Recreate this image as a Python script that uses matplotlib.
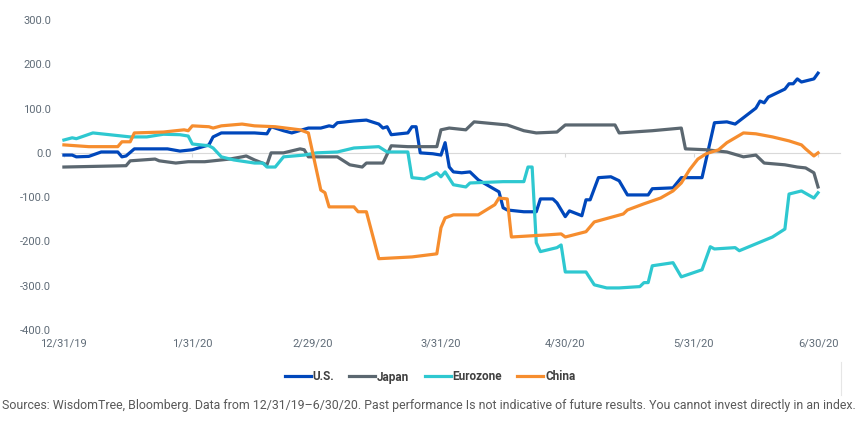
import matplotlib
matplotlib.use("Agg")
import matplotlib.pyplot as plt
import pandas as pd
from matplotlib.lines import Line2D

plt.rcParams['font.family'] = ['Roboto', 'DejaVu Sans']

# excess return series (dates m/d/yy, values)
us_dates = ["12/31/19", "1/2/20", "1/3/20", "1/6/20", "1/9/20", "1/13/20", "1/14/20", "1/15/20", "1/17/20", "1/25/20",
            "1/28/20", "1/31/20", "2/4/20", "2/5/20", "2/7/20", "2/15/20", "2/18/20", "2/19/20", "2/22/20", "2/24/20",
            "2/28/20", "3/2/20", "3/4/20", "3/5/20", "3/6/20", "3/10/20", "3/13/20", "3/16/20", "3/17/20", "3/18/20",
            "3/19/20", "3/23/20", "3/24/20", "3/25/20", "3/26/20", "3/29/20", "3/31/20", "4/1/20", "4/2/20", "4/3/20",
            "4/5/20", "4/7/20", "4/9/20", "4/14/20", "4/15/20", "4/16/20", "4/20/20", "4/23/20", "4/24/20", "4/27/20",
            "4/28/20", "4/30/20", "5/1/20", "5/4/20", "5/5/20", "5/6/20", "5/8/20", "5/11/20", "5/13/20", "5/15/20",
            "5/20/20", "5/21/20", "5/26/20", "5/28/20", "6/2/20", "6/5/20", "6/8/20", "6/10/20", "6/15/20", "6/16/20",
            "6/17/20", "6/18/20", "6/22/20", "6/23/20", "6/24/20", "6/25/20", "6/26/20", "6/29/20", "6/30/20"]
us_vals = [-5, -5, -9, -8, 2, 2, -9, -7, 9, 9,
           4, 7, 18, 36, 45, 45, 43, 59, 50, 45,
           56, 56, 61, 59, 68, 72, 74, 65, 56, 59,
           41, 45, 59, 59, 0, -2, -5, 23, -32, -43,
           -45, -43, -61, -88, -124, -129, -133, -133, -104, -104,
           -113, -144, -131, -142, -106, -106, -56, -54, -63, -95,
           -95, -81, -79, -56, -56, 68, 70, 65, 101, 117,
           113, 126, 144, 156, 156, 167, 160, 167, 180]

japan_dates = ["12/31/19", "1/15/20", "1/16/20", "1/22/20", "1/23/20", "1/27/20", "1/30/20", "2/3/20", "2/9/20", "2/12/20",
               "2/13/20", "2/15/20", "2/18/20", "2/19/20", "2/22/20", "2/26/20", "2/27/20", "2/28/20", "3/6/20", "3/9/20",
               "3/12/20", "3/13/20", "3/17/20", "3/19/20", "3/23/20", "3/30/20", "3/31/20", "4/2/20", "4/6/20", "4/8/20",
               "4/16/20", "4/20/20", "4/23/20", "4/28/20", "4/30/20", "5/12/20", "5/13/20", "5/21/20", "5/28/20", "5/29/20",
               "6/3/20", "6/8/20", "6/12/20", "6/15/20", "6/17/20", "6/22/20", "6/25/20", "6/27/20", "6/29/20", "6/30/20"]
japan_vals = [-32, -29, -18, -14, -18, -23, -20, -20, -14, -9,
              -7, -16, -27, 0, 0, 9, 7, -9, -9, -27,
              -32, -23, -23, 16, 14, 14, 52, 56, 52, 70,
              63, 50, 45, 47, 63, 63, 45, 50, 56, 9,
              7, 2, -9, -5, -23, -27, -32, -34, -45, -77]

euro_dates = ["12/31/19", "1/2/20", "1/3/20", "1/7/20", "1/14/20", "1/16/20", "1/20/20", "1/24/20", "1/28/20", "1/30/20",
              "1/31/20", "2/4/20", "2/5/20", "2/7/20", "2/10/20", "2/15/20", "2/17/20", "2/18/20", "2/20/20", "2/22/20",
              "2/27/20", "3/1/20", "3/6/20", "3/10/20", "3/16/20", "3/18/20", "3/23/20", "3/24/20", "3/27/20", "3/30/20",
              "3/31/20", "4/1/20", "4/3/20", "4/6/20", "4/7/20", "4/15/20", "4/20/20", "4/21/20", "4/22/20", "4/23/20",
              "4/24/20", "4/28/20", "4/29/20", "4/30/20", "5/5/20", "5/7/20", "5/10/20", "5/13/20", "5/18/20", "5/19/20",
              "5/20/20", "5/21/20", "5/26/20", "5/28/20", "6/2/20", "6/4/20", "6/5/20", "6/10/20", "6/11/20", "6/19/20",
              "6/22/20", "6/23/20", "6/26/20", "6/29/20", "6/30/20"]
euro_vals = [29, 34, 32, 45, 38, 36, 36, 42, 41, 38,
             20, 16, 11, -9, -16, -23, -23, -32, -32, -9,
             -5, 0, 2, 11, 14, 2, 2, -56, -59, -45,
             -54, -43, -72, -77, -68, -65, -65, -32, -32, -203,
             -223, -214, -208, -269, -269, -298, -305, -305, -302, -293,
             -293, -255, -248, -280, -264, -212, -217, -214, -221, -190,
             -172, -93, -86, -102, -90]

china_dates = ["12/31/19", "1/6/20", "1/13/20", "1/14/20", "1/16/20", "1/17/20", "1/24/20", "1/29/20", "1/30/20", "1/31/20",
               "2/4/20", "2/5/20", "2/7/20", "2/12/20", "2/15/20", "2/20/20", "2/26/20", "2/28/20", "3/2/20", "3/3/20",
               "3/4/20", "3/10/20", "3/11/20", "3/13/20", "3/16/20", "3/24/20", "3/30/20", "3/31/20", "4/1/20", "4/3/20",
               "4/9/20", "4/13/20", "4/14/20", "4/16/20", "4/17/20", "4/26/20", "4/29/20", "4/30/20", "5/5/20", "5/7/20",
               "5/14/20", "5/15/20", "5/19/20", "5/23/20", "5/26/20", "5/28/20", "5/30/20", "6/1/20", "6/3/20", "6/6/20",
               "6/8/20", "6/10/20", "6/12/20", "6/15/20", "6/19/20", "6/23/20", "6/26/20", "6/27/20", "6/29/20", "6/30/20"]
china_vals = [18, 14, 14, 25, 25, 45, 47, 52, 50, 61,
              59, 56, 61, 65, 61, 59, 52, 45, -84, -90,
              -122, -122, -133, -133, -239, -235, -228, -169, -147, -140,
              -140, -117, -102, -104, -190, -185, -183, -190, -178, -156,
              -138, -129, -115, -102, -86, -68, -38, -14, -2, 7,
              23, 34, 45, 43, 36, 27, 18, 9, -7, 0]

series_names = ["U.S.", "Japan", "Eurozone", "China"]
series_colors = ["#0047BB", "#5B6770", "#2EC8D0", "#F68D2E"]

x_ticks = ["12/31/19", "1/31/20", "2/29/20", "3/31/20", "4/30/20", "5/31/20", "6/30/20"]
y_ticks = [300, 200, 100, 0, -100, -200, -300, -400]

source = ("Sources: WisdomTree, Bloomberg. Data from 12/31/19\u20136/30/20. Past performance Is not "
          "indicative of future results. You cannot invest directly in an index.")


def to_dates(lst):
    return pd.to_datetime(lst, format="%m/%d/%y")


fig = plt.figure(figsize=(8.59, 4.32), dpi=100)
ax = fig.add_axes([61 / 859, 1 - 330 / 432, (840 - 61) / 859, 310 / 432])

all_series = [(us_dates, us_vals), (japan_dates, japan_vals), (euro_dates, euro_vals), (china_dates, china_vals)]
for (d, v), name, c in zip(all_series, series_names, series_colors):
    ax.plot(to_dates(d), v, color=c, lw=2.3, label=name, solid_joinstyle='round', zorder=3)

start = pd.Timestamp("2019-12-31")
end = pd.Timestamp("2020-06-30")
ax.set_xlim(start - pd.Timedelta(days=0.7), end + pd.Timedelta(days=5.3))
ax.set_ylim(-400, 300)

# axis line sits on zero with small ticks, labels at the bottom
for s in ["top", "right", "left"]:
    ax.spines[s].set_visible(False)
ax.spines["bottom"].set_position(("data", 0))
ax.spines["bottom"].set_color("#d9d9d9")
ax.spines["bottom"].set_zorder(1)
tick_pos = to_dates(x_ticks)
ax.set_xticks(tick_pos)
ax.tick_params(axis="x", length=3, color="#d9d9d9", labelbottom=False)

sec = ax.secondary_xaxis("bottom")
sec.set_xticks(tick_pos, labels=x_ticks)
sec.spines["bottom"].set_visible(False)
sec.tick_params(length=0, pad=6, labelsize=8, labelcolor="#5F6B77")

ax.set_yticks(y_ticks, labels=[f"{v:.1f}" for v in y_ticks])
ax.tick_params(axis="y", length=0, pad=7, labelsize=8, labelcolor="#5F6B77")

handles = [Line2D([], [], color=c, lw=2.3) for c in series_colors]
fig.legend(handles, series_names, loc="center", bbox_to_anchor=(430 / 859, 1 - 377 / 432), ncol=4,
           frameon=False, handlelength=2.2, handletextpad=0.15, columnspacing=1.3,
           prop={"size": 8.5, "weight": "bold"}, labelcolor="#404040")

fig.text(0.002, 1 - 405 / 432, source, fontsize=8.9, color="#595959", va="center", ha="left")
fig.add_artist(Line2D([841 / 859, 841 / 859], [1 - 395 / 432, 1 - 362 / 432], color="#e6e6e6", lw=0.8))

fig.savefig("out.png", dpi=100)
